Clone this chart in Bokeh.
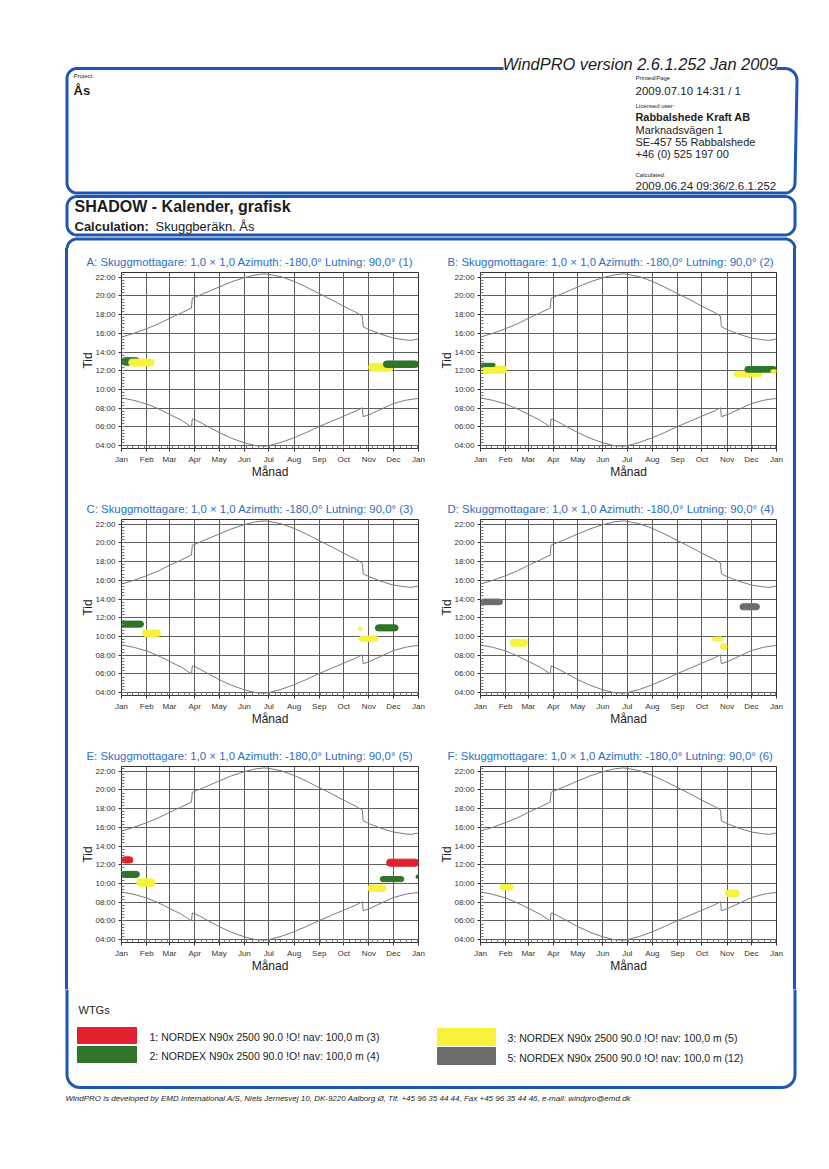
import numpy as np
from bokeh.plotting import figure
from bokeh.layouts import column, row
from bokeh.models import Range1d, FixedTicker, Title, Quad, Spacer
from bokeh.core.properties import value
from bokeh.embed import file_html
from bokeh.resources import INLINE

FONT = "Liberation Sans"
BLUE = "#1d57b3"
TITLE_BLUE = "#2b6ec4"
INK = "#1c1c1c"

# ------------------------------------------------------------------ data
month_days = [0, 31, 59, 90, 120, 151, 181, 212, 243, 273, 304, 334, 365]
month_names = ["Jan", "Feb", "Mar", "Apr", "May", "Jun", "Jul", "Aug", "Sep", "Oct", "Nov", "Dec", "Jan"]
hour_ticks = [4, 6, 8, 10, 12, 14, 16, 18, 20, 22]
hour_names = ["04:00", "06:00", "08:00", "10:00", "12:00", "14:00", "16:00", "18:00", "20:00", "22:00"]

# sunrise / sunset (hours, local time incl. DST jumps)
sun_days = [0, 15, 31, 45, 59, 74, 86, 87, 90, 105, 120, 135, 151, 165, 176, 181,
            196, 212, 227, 243, 258, 273, 288, 296, 297, 304, 319, 334, 349, 356, 365]
sunset_hours = [15.6, 16.0, 16.5, 17.0, 17.6, 18.2, 18.7, 19.75, 19.85, 20.4, 20.95, 21.5,
                21.95, 22.25, 22.35, 22.3, 22.05, 21.55, 20.95, 20.25, 19.6, 18.9, 18.25,
                17.85, 16.7, 16.4, 15.9, 15.5, 15.3, 15.25, 15.4]
sunrise_hours = [9.1, 8.85, 8.45, 7.95, 7.35, 6.7, 6.0, 6.85, 6.8, 6.1, 5.4, 4.8, 4.3,
                 4.0, 3.95, 4.0, 4.35, 4.85, 5.4, 6.05, 6.6, 7.15, 7.7, 8.05, 7.1, 7.3,
                 7.9, 8.5, 8.85, 8.95, 9.05]

# WTGs
wtg_ids = [1, 2, 3, 5]
wtg_colors = ["#e3202d", "#2f7428", "#f7f23c", "#6b6d6b"]
wtg_labels = ["1: NORDEX N90x 2500 90.0 !O! nav: 100,0 m (3)",
              "2: NORDEX N90x 2500 90.0 !O! nav: 100,0 m (4)",
              "3: NORDEX N90x 2500 90.0 !O! nav: 100,0 m (5)",
              "5: NORDEX N90x 2500 90.0 !O! nav: 100,0 m (12)"]

receptor_letters = ["A", "B", "C", "D", "E", "F"]
receptor_numbers = [1, 2, 3, 4, 5, 6]

# shadow periods per receptor: wtg, first day, last day, earliest hour, latest hour
panel_A_wtg = [2, 3, 3, 2]
panel_A_from = [0, 9, 304, 322]
panel_A_to = [22, 40, 333, 365]
panel_A_low = [12.6, 12.5, 11.95, 12.35]
panel_A_high = [13.4, 13.25, 12.8, 13.05]

panel_B_wtg = [3, 2, 3, 2, 3]
panel_B_from = [0, 0, 313, 326, 358]
panel_B_to = [32, 18, 347, 365, 365]
panel_B_low = [11.75, 12.45, 11.35, 11.85, 11.8]
panel_B_high = [12.5, 12.8, 11.95, 12.45, 12.1]

panel_C_wtg = [2, 3, 3, 3, 2]
panel_C_from = [0, 26, 291, 292, 312]
panel_C_to = [27, 48, 295, 315, 340]
panel_C_low = [11.0, 10.0, 10.65, 9.5, 10.6]
panel_C_high = [11.65, 10.7, 11.0, 10.05, 11.25]

panel_D_wtg = [5, 3, 3, 3, 5]
panel_D_from = [0, 37, 286, 296, 320]
panel_D_to = [27, 58, 299, 304, 344]
panel_D_low = [13.4, 8.95, 9.55, 8.6, 12.85]
panel_D_high = [14.0, 9.7, 9.95, 9.25, 13.5]

panel_E_wtg = [1, 2, 3, 3, 2, 2, 1]
panel_E_from = [0, 0, 19, 303, 318, 362, 326]
panel_E_to = [14, 22, 41, 325, 347, 365, 365]
panel_E_low = [12.2, 10.65, 9.7, 9.15, 10.2, 10.55, 11.85]
panel_E_high = [12.85, 11.3, 10.5, 9.85, 10.75, 10.9, 12.6]

panel_F_wtg = [3, 3]
panel_F_from = [24, 302]
panel_F_to = [40, 319]
panel_F_low = [9.3, 8.6]
panel_F_high = [9.9, 9.3]

panels = [
    (panel_A_wtg, panel_A_from, panel_A_to, panel_A_low, panel_A_high),
    (panel_B_wtg, panel_B_from, panel_B_to, panel_B_low, panel_B_high),
    (panel_C_wtg, panel_C_from, panel_C_to, panel_C_low, panel_C_high),
    (panel_D_wtg, panel_D_from, panel_D_to, panel_D_low, panel_D_high),
    (panel_E_wtg, panel_E_from, panel_E_to, panel_E_low, panel_E_high),
    (panel_F_wtg, panel_F_from, panel_F_to, panel_F_low, panel_F_high),
]
color_of = dict(zip(wtg_ids, wtg_colors))

HAS_RADIUS = "border_radius" in Quad.properties()
HAS_STANDOFF = "standoff" in Title.properties()

# ------------------------------------------------------------------ helpers
def arc(cx, cy, r, a0, a1, n=12):
    t = np.linspace(a0, a1, n)
    return list(cx + r * np.cos(t)), list(cy + r * np.sin(t))


def join(*parts):
    xs, ys = [], []
    for px, py in parts:
        xs += list(px)
        ys += list(py)
    return xs, ys


def blank(width, height, xr, yr):
    p = figure(width=width, height=height, x_range=xr, y_range=yr,
               x_axis_type=None, y_axis_type=None, toolbar_location=None,
               output_backend="svg", min_border=0, outline_line_color=None,
               background_fill_color="white", border_fill_color="white")
    p.grid.visible = False
    return p


def txt(p, x, baseline, s, size, bold=False, italic=False, color=INK):
    # place by visual baseline: convert to em-box middle
    style = "bold" if bold else ("italic" if italic else "normal")
    mid = baseline - 0.35 * size
    p.text(x=[x], y=[mid], text=[s], text_font=value(FONT), text_font_size=f"{size}px",
           text_font_style=style, text_color=color, text_baseline="middle",
           text_align="left")


X0, X1, R = 66.5, 794.5, 10

# ------------------------------------------------------------------ header
header = blank(813, 240, Range1d(8, 821), Range1d(248, 8))

# project box (top edge interrupted by the version text)
py0, py1 = 68, 192.5
xs, ys = join(([503], [py0]),
              arc(X0 + R, py0 + R, R, 1.5 * np.pi, np.pi),
              arc(X0 + R, py1 - R, R, np.pi, 0.5 * np.pi),
              arc(X1 - R, py1 - R, R, 0.5 * np.pi, 0.0),
              arc(X1 - R, py0 + R + 2, R + 2, 0.0, -0.5 * np.pi),
              ([776], [py0]))
header.line(xs, ys, line_color=BLUE, line_width=3)

# title box
ty0, ty1 = 196, 234.5
xs, ys = join(arc(X0 + R, ty0 + R, R, 1.5 * np.pi, np.pi),
              arc(X0 + R, ty1 - R, R, np.pi, 0.5 * np.pi),
              arc(X1 - R, ty1 - R, R, 0.5 * np.pi, 0.0),
              arc(X1 - R, ty0 + R, R, 0.0, -0.5 * np.pi),
              ([X0 + R], [ty0]))
header.line(xs, ys, line_color=BLUE, line_width=3)

# main box top
my0, my1 = 238.5, 1087
xs, ys = join(([X0], [260]),
              arc(X0 + R, my0 + R, R, np.pi, 1.5 * np.pi),
              arc(X1 - R, my0 + R, R, -0.5 * np.pi, 0.0),
              ([X1], [260]))
header.line(xs, ys, line_color=BLUE, line_width=3)

txt(header, 502, 69, "WindPRO version 2.6.1.252  Jan 2009", 16.4, italic=True)
txt(header, 73, 78, "Project:", 6)
txt(header, 73, 95, "Ås", 13, bold=True)
RX = 635
txt(header, RX, 80, "Printed/Page", 6)
txt(header, RX, 95, "2009.07.10 14:31 / 1", 11.5)
txt(header, RX, 108, "Licensed user:", 6)
txt(header, RX, 120, "Rabbalshede Kraft AB", 10.9, bold=True)
txt(header, RX, 133, "Marknadsvägen 1", 11)
txt(header, RX, 145, "SE-457 55 Rabbalshede", 11)
txt(header, RX, 157, "+46 (0) 525 197 00", 11)
txt(header, RX, 177, "Calculated:", 6)
txt(header, RX, 190, "2009.06.24 09:36/2.6.1.252", 11.5)
txt(header, 74, 212, "SHADOW - Kalender, grafisk", 16, bold=True)
txt(header, 74, 231, "Calculation:", 13, bold=True)
txt(header, 155, 231, "Skuggberäkn. Ås", 13)


# ------------------------------------------------------------------ charts
def pad(width, height, lx):
    grad = (f"linear-gradient(to right, transparent {lx}px, {BLUE} {lx}px, "
            f"{BLUE} {lx + 3}px, transparent {lx + 3}px)")
    return Spacer(width=width, height=height, styles={"background": grad})


def chart(k, left):
    wtg, d0, d1, h0, h1 = panels[k]
    if left:
        w, mbl, mbr, off = 366, 51, 18, -35
    else:
        w, mbl, mbr, off = 354, 44, 14, -33
    title = (f"{receptor_letters[k]}: Skuggmottagare: 1,0 × 1,0  Azimuth: -180,0°  "
             f"Lutning: 90,0° ({receptor_numbers[k]})")
    p = figure(width=w, height=247, x_range=Range1d(0, 365), y_range=Range1d(3.7, 22.5),
               title=title, toolbar_location=None, output_backend="svg",
               min_border_left=mbl, min_border_right=mbr,
               min_border_top=24, min_border_bottom=47,
               background_fill_color="white", border_fill_color="white")
    p.title.align = "left"
    p.title.offset = off
    p.title.vertical_align = "top"
    p.title.text_line_height = 1.5
    p.title.text_font = FONT
    p.title.text_font_size = "11.4px"
    p.title.text_font_style = "normal"
    p.title.text_color = TITLE_BLUE
    if HAS_STANDOFF:
        p.title.standoff = 6

    xt = FixedTicker(ticks=month_days, minor_ticks=list(range(7, 365, 7)))
    yt = FixedTicker(ticks=hour_ticks, minor_ticks=[round(4 + i / 3.0, 4) for i in range(-1, 56)])
    p.xaxis.ticker = xt
    p.yaxis.ticker = yt
    p.xgrid.ticker = xt
    p.ygrid.ticker = yt
    p.xaxis.major_label_overrides = dict(zip(month_days, month_names))
    p.yaxis.major_label_overrides = dict(zip(hour_ticks, hour_names))
    p.xaxis.axis_label = "Månad"
    p.yaxis.axis_label = "Tid"
    for ax in (p.xaxis[0], p.yaxis[0]):
        ax.major_label_text_font = FONT
        ax.major_label_text_font_size = "8px"
        ax.major_label_text_color = "#333333"
        ax.axis_label_text_font = FONT
        ax.axis_label_text_font_size = "12px"
        ax.axis_label_text_font_style = "normal"
        ax.axis_label_text_color = INK
        ax.axis_line_color = "#333333"
        ax.major_tick_line_color = "#333333"
        ax.minor_tick_line_color = "#777777"
        ax.major_tick_out = 3
        ax.major_tick_in = 0
        ax.minor_tick_out = 0
        ax.minor_tick_in = 3
        ax.major_label_standoff = 3
    p.xaxis.axis_label_standoff = -2
    p.yaxis.axis_label_standoff = -3
    p.grid.grid_line_color = "#5e5e5e"
    p.grid.grid_line_width = 1
    p.outline_line_color = "#333333"

    p.line(sun_days, sunset_hours, line_color="#7a7a7a", line_width=1)
    p.line(sun_days, sunrise_hours, line_color="#7a7a7a", line_width=1)

    cols = [color_of[w_] for w_ in wtg]
    qkw = dict(left=d0, right=d1, bottom=h0, top=h1, fill_color=cols, line_color=cols)
    if HAS_RADIUS:
        qkw["border_radius"] = 3
    p.quad(**qkw)
    return p


rows = []
for r_i in range(3):
    rows.append(row(pad(62, 247, 57), chart(2 * r_i, True), chart(2 * r_i + 1, False),
                    pad(31, 247, 3), spacing=0))

# ------------------------------------------------------------------ legend + footer
legend = blank(813, 172, Range1d(8, 821), Range1d(1161, 989))
RB = 13
xs, ys = join(([X0], [970]),
              arc(X0 + RB, my1 - RB, RB, np.pi, 0.5 * np.pi),
              arc(X1 - RB, my1 - RB, RB, 0.5 * np.pi, 0.0),
              ([X1], [970]))
legend.line(xs, ys, line_color=BLUE, line_width=3)
txt(legend, 78, 1013, "WTGs", 11)

sw_left = [77, 77, 437, 437]
sw_right = [136, 136, 495, 495]
sw_top = [1027, 1046, 1028, 1047]
sw_bottom = [1043, 1062, 1045, 1064]
legend.quad(left=sw_left, right=sw_right, top=sw_top, bottom=sw_bottom,
            fill_color=wtg_colors, line_color=wtg_colors)
lab_x = [149, 149, 507, 507]
lab_base = [1040, 1059, 1041, 1061]
legend.text(x=lab_x, y=[b - 0.35 * 10.5 for b in lab_base], text=wtg_labels,
            text_font=value(FONT), text_font_size="10.5px", text_color=INK,
            text_baseline="middle")
txt(legend, 65, 1101,
    "WindPRO is developed by EMD International A/S, Niels Jernesvej 10, DK-9220 Aalborg Ø, "
    "Tlf. +45 96 35 44 44, Fax +45 96 35 44 46, e-mail: windpro@emd.dk", 8, italic=True)

page = column(header, *rows, legend, spacing=0)
layout = row(Spacer(width=8, height=1161), column(Spacer(width=813, height=8), page, spacing=0),
             spacing=0)
open("out.html", "w").write(file_html(layout, INLINE, title="SHADOW - Kalender, grafisk"))
